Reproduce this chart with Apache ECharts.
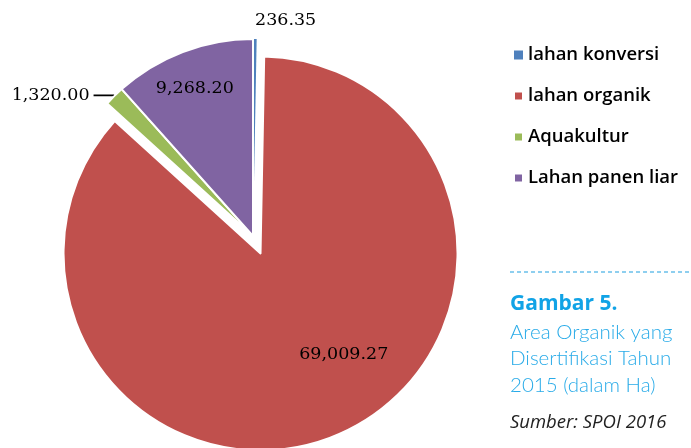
<!DOCTYPE html>
<html>
<head>
<meta charset="utf-8">
<script src="https://cdn.jsdelivr.net/npm/echarts@6/dist/echarts.min.js"></script>
<style>
html,body{margin:0;padding:0;background:#fff;}
#chart{width:691px;height:448px;}
</style>
</head>
<body>
<div id="chart"></div>
<script>
const categories = ['lahan konversi', 'lahan organik', 'Aquakultur', 'Lahan panen liar'];
const values = [236.35, 69009.27, 1320.00, 9268.20];
const colors = ['#4F81BD', '#C0504D', '#9BBB59', '#8064A2'];

const chart = echarts.init(document.getElementById('chart'));
const fmt = v => v.toLocaleString('en-US', {minimumFractionDigits: 2, maximumFractionDigits: 2});
const labelFont = {fontFamily: 'DejaVu Serif', fontSize: 17.5, color: '#000'};

const itemCfg = [
  {itemStyle: {borderWidth: 0}, label: {position: 'outside', distanceToLabelLine: 0}, labelLine: {show: false, length: 19, length2: 0}},
  {selected: true, label: {position: 'inside'}},
  {label: {position: 'outside', distanceToLabelLine: 4}, labelLine: {show: true, length: 1, length2: 20, smooth: false, lineStyle: {color: '#000', width: 1.8}}},
  {label: {position: 'inside'}}
];
const labelShift = [[0, 0], [43, 8], [0, 0], [-22, -53]];

const data = categories.map((c, i) => {
  const d = Object.assign({name: c, value: values[i]}, itemCfg[i]);
  d.itemStyle = Object.assign({color: colors[i]}, itemCfg[i].itemStyle || {});
  return d;
});

chart.setOption({
  animation: false,
  legend: {
    orient: 'vertical',
    left: 513,
    top: 45,
    padding: 0,
    itemWidth: 9,
    itemHeight: 9,
    itemGap: 21,
    icon: 'rect',
    data: categories,
    textStyle: {fontFamily: 'Open Sans', fontSize: 18.5, fontWeight: 600, color: '#000', lineHeight: 20}
  },
  graphic: [
    {type: 'line', shape: {x1: 510, y1: 272, x2: 691, y2: 272}, style: {stroke: '#1E9FE0', lineWidth: 1.2, lineDash: [4, 3]}},
    {type: 'text', left: 510, top: 294, style: {text: 'Gambar 5.', font: 'bold 21px "Open Sans"', fill: '#11A3E6'}},
    {type: 'text', left: 510, top: 319, style: {text: 'Area Organik yang\nDisertifikasi Tahun\n2015 (dalam Ha)', font: '300 20.5px Lato', lineHeight: 26.5, fill: '#29ABE8'}},
    {type: 'text', left: 510, top: 413, style: {text: 'Sumber: SPOI 2016', font: 'italic 18.5px "Open Sans"', fill: '#222'}}
  ],
  series: [{
    type: 'pie',
    center: [253, 236],
    radius: 197,
    startAngle: 90,
    clockwise: true,
    selectedMode: 'multiple',
    selectedOffset: 19,
    avoidLabelOverlap: false,
    silent: true,
    itemStyle: {borderColor: '#fff', borderWidth: 2},
    label: Object.assign({show: true, formatter: p => fmt(p.value)}, labelFont),
    labelLine: {lineStyle: {color: '#000'}},
    labelLayout: p => {
      const s = labelShift[p.dataIndex];
      return (s[0] || s[1]) ? {dx: s[0], dy: s[1]} : {};
    },
    emphasis: {disabled: true},
    data: data
  }]
});
</script>
</body>
</html>
